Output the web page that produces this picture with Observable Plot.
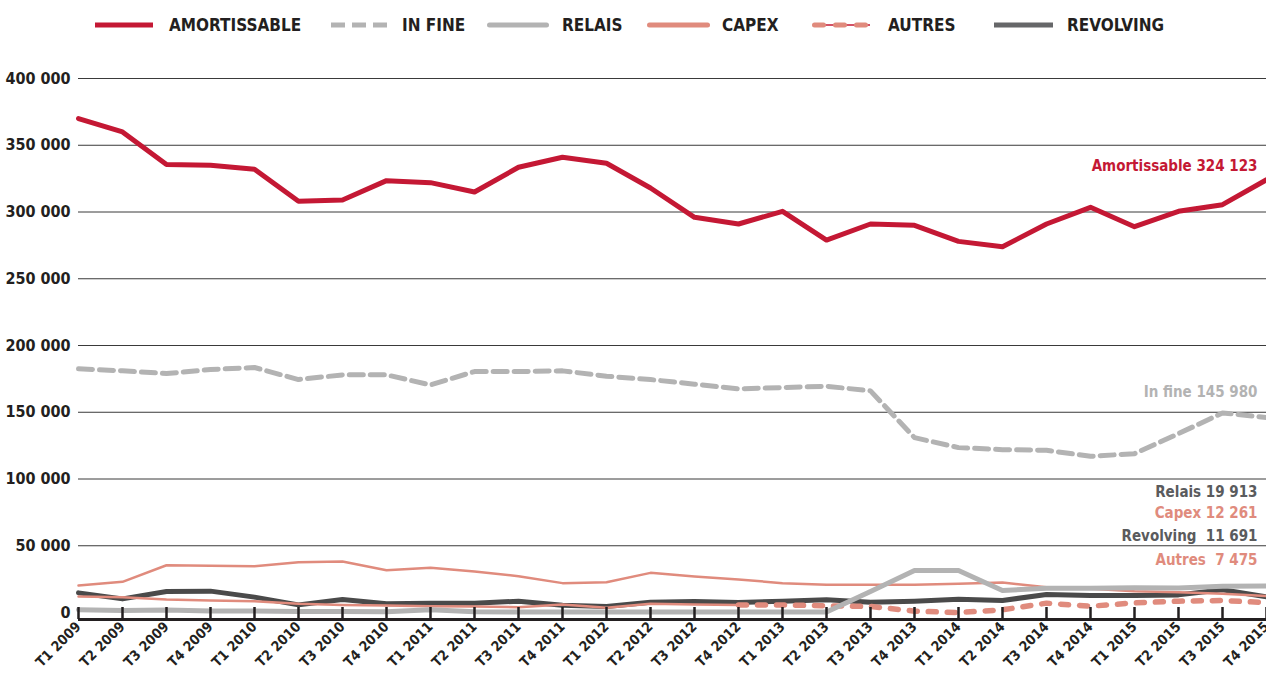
<!DOCTYPE html>
<html><head><meta charset="utf-8">
<script src="https://cdn.jsdelivr.net/npm/d3@7"></script>
<script src="https://cdn.jsdelivr.net/npm/@observablehq/plot@0.6"></script>
<style>
body{margin:0;background:#fff;font-family:"Liberation Sans Narrow","DejaVu Sans Condensed","Roboto Condensed",sans-serif;}
#legend{position:relative;height:50px;width:1266px;}
.sw{position:absolute;top:15px;}
.lab{position:absolute;top:13px;font-weight:bold;font-size:17px;color:#231f20;line-height:24px;}
</style></head><body>
<div id="legend"></div><div id="chart"></div>
<script>
const quarters = ["T1 2009","T2 2009","T3 2009","T4 2009","T1 2010","T2 2010","T3 2010","T4 2010",
  "T1 2011","T2 2011","T3 2011","T4 2011","T1 2012","T2 2012","T3 2012","T4 2012",
  "T1 2013","T2 2013","T3 2013","T4 2013","T1 2014","T2 2014","T3 2014","T4 2014",
  "T1 2015","T2 2015","T3 2015","T4 2015"];
const amortissable = [370000,360000,335500,335000,332000,308000,309000,323500,322000,315000,333500,341000,336500,318000,296000,291000,300500,279000,291000,290000,278000,274000,291000,303500,289000,300500,305500,324123];
const inFine = [182500,181000,179000,182000,183500,174500,178000,178000,170500,180500,180500,181000,177000,174500,171000,167500,168500,169500,166000,131000,123500,122000,121500,117000,119000,134000,149500,145980];
const relais = [2000,1500,1800,1200,1200,800,800,500,2000,500,300,300,300,300,300,300,300,300,15700,31500,31500,16500,18200,18200,18500,18300,19700,19913];
const capex = [20200,23000,35400,35000,34700,37700,38200,31700,33500,30700,27200,22000,22700,29700,27000,24700,22000,20700,20700,20700,21500,22400,19000,17700,16000,15200,14000,12261];
const revolving = [14700,10200,15700,16000,11500,5700,9700,6500,7000,7000,8500,5500,4500,7700,8200,7500,8500,9500,7700,8500,10000,9000,13500,12700,12700,13200,17000,11691];
const autres = [12000,11500,9700,9000,8500,6500,5700,5200,4700,4500,4000,6000,3500,6500,6000,5700,5700,5000,4500,1000,0,2000,7000,4700,7200,8500,9000,7475];
const yTicks = [0,50000,100000,150000,200000,250000,300000,350000,400000];
const legendNames = ["AMORTISSABLE","IN FINE","RELAIS","CAPEX","AUTRES","REVOLVING"];
const endLabels = ["Amortissable 324 123","In fine 145 980","Relais 19 913","Capex 12 261","Revolving  11 691","Autres  7 475"];

const FONT = '"Liberation Sans Narrow","DejaVu Sans Condensed","Roboto Condensed",sans-serif';
const C = {amort:"#c41834", grey:"#b3b3b3", capex:"#e08b7d", rev:"#4a4a4a", dark:"#5a5b5d", text:"#231f20"};

// legend
const legendStyle = [
  {sx:95, w:58, stroke:C.amort, dash:null, cap:"butt", tx:169},
  {sx:331, w:58, stroke:C.grey, dash:"14,7", cap:"butt", tx:402},
  {sx:487, w:62, stroke:C.grey, dash:null, cap:"round", tx:562},
  {sx:647, w:63, stroke:C.capex, dash:null, cap:"round", tx:722},
  {sx:812, w:61, stroke:C.capex, dash:"9,12", cap:"round", tx:888, under:C.amort},
  {sx:994, w:59, stroke:"#666769", dash:null, cap:"butt", tx:1067}
];
const leg = document.getElementById("legend");
legendNames.forEach((n,i) => {
  const s = legendStyle[i];
  const ns = "http://www.w3.org/2000/svg";
  const svg = document.createElementNS(ns,"svg");
  svg.setAttribute("class","sw"); svg.setAttribute("width", s.w+6); svg.setAttribute("height",20);
  svg.style.left = (s.sx-3)+"px";
  if (s.under) {
    const u = document.createElementNS(ns,"line");
    u.setAttribute("x1",6);u.setAttribute("x2",s.w);u.setAttribute("y1",10);u.setAttribute("y2",10);
    u.setAttribute("stroke",s.under);u.setAttribute("stroke-width",1.5);svg.appendChild(u);
  }
  const l = document.createElementNS(ns,"line");
  const pad = s.cap==="round" ? 5.5 : 3;
  l.setAttribute("x1",pad);l.setAttribute("x2",s.w+6-pad);l.setAttribute("y1",10);l.setAttribute("y2",10);
  l.setAttribute("stroke",s.stroke);l.setAttribute("stroke-width",5);l.setAttribute("stroke-linecap",s.cap);
  if (s.dash) l.setAttribute("stroke-dasharray",s.dash);
  svg.appendChild(l); leg.appendChild(svg);
  const t = document.createElement("div"); t.className="lab"; t.textContent=n; t.style.left=s.tx+"px";
  leg.appendChild(t);
});

const rows = (vals) => quarters.map((q,i)=>({q, v: vals[i], i}));
const fmt = d => d3.format(",")(d).replace(/,/g, " ");
const last = quarters[quarters.length-1];
const endVals = [amortissable, inFine, relais, capex, revolving, autres].map(a => a[a.length-1]);
const endStyle = [
  {fill:C.amort, dy:-14},
  {fill:C.grey, dy:-25},
  {fill:C.dark, dy:-94},
  {fill:C.capex, dy:-83},
  {fill:C.dark, dy:-61},
  {fill:C.capex, dy:-42}
];
const autresRows = rows(autres);

const chart = Plot.plot({
  width: 1266, height: 624,
  marginLeft: 78, marginRight: 0, marginTop: 28, marginBottom: 55,
  style: {fontFamily: FONT, background: "white", overflow: "visible"},
  x: {type: "point", domain: quarters, padding: 0},
  y: {domain: [0, 400000], insetBottom: 7},
  marks: [
    Plot.gridY(yTicks.filter(d => d > 0), {stroke: "#3a3a3a", strokeOpacity: 1, strokeWidth: 1}),
    Plot.axisY(yTicks, {tickSize: 0, tickPadding: 8, tickFormat: fmt, fontSize: 16, fontWeight: "bold", fill: C.text, label: null}),
    Plot.line(rows(revolving), {x: "q", y: "v", stroke: C.rev, strokeWidth: 5}),
    Plot.line(rows(capex), {x: "q", y: "v", stroke: C.capex, strokeWidth: 2.5}),
    Plot.line(autresRows.filter(d => d.i <= 15), {x: "q", y: "v", stroke: C.capex, strokeWidth: 2.5}),
    Plot.line(autresRows.filter(d => d.i >= 15), {x: "q", y: "v", stroke: C.capex, strokeWidth: 5.5, strokeDasharray: "8,11", strokeLinecap: "round"}),
    Plot.line(rows(relais), {x: "q", y: "v", stroke: C.grey, strokeWidth: 5}),
    Plot.line(rows(inFine), {x: "q", y: "v", stroke: C.grey, strokeWidth: 5, strokeDasharray: "14,7"}),
    Plot.line(rows(amortissable), {x: "q", y: "v", stroke: C.amort, strokeWidth: 5}),
    Plot.ruleY([0], {dy: 7, stroke: C.text, strokeWidth: 3}),
    Plot.ruleX(quarters, {x: d => d, y1: () => 0, y2: () => 0, insetTop: -5, insetBottom: -7, stroke: C.text, strokeWidth: 2.5}),
    Plot.axisX({tickSize: 0, tickPadding: 5, tickRotate: -45, fontSize: 14, fontWeight: "bold", fill: C.text, label: null}),
    ...endLabels.map((t, k) => Plot.text([t], {x: () => last, y: () => endVals[k], text: d => d, textAnchor: "end", dx: -9, dy: endStyle[k].dy, fill: endStyle[k].fill, fontSize: 15, fontWeight: "bold"}))
  ]
});
document.getElementById("chart").appendChild(chart);
</script>
</body></html>
